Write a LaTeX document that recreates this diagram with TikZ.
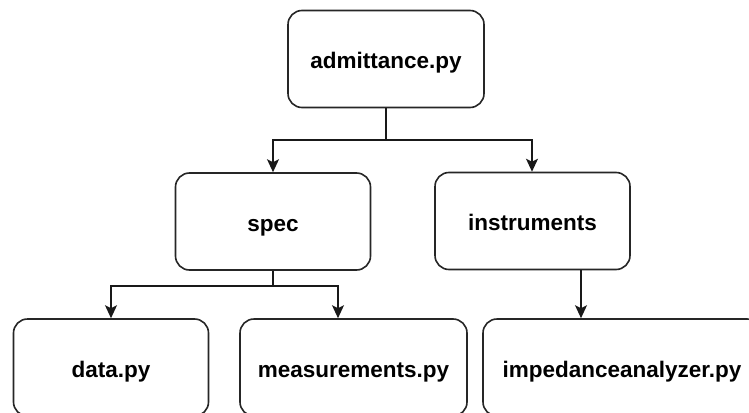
\documentclass[tikz,border=0pt]{standalone}
\usepackage{fontspec}
\setmainfont{Liberation Sans}
\usetikzlibrary{arrows.meta,calc}
\tikzset{
  box/.style={draw=black!85, line width=1.6pt, rounded corners=14pt, fill=white,
    minimum height=97pt, inner sep=0pt, text height=22pt, text depth=3pt,
    font=\fontsize{22.5}{27}\selectfont\bfseries},
  link/.style={draw=black!90, line width=1.6pt},
  conn/.style={link, -{Stealth[length=13pt,width=12pt,inset=3pt]}}
}
\begin{document}
\begin{tikzpicture}[x=1pt,y=-1pt]
\clip (0,0) rectangle (749,412);
\fill[white] (0,0) rectangle (749,412);
\node[box, minimum width=196pt] (adm) at (386,59) {admittance.py};
\node[box, minimum width=195pt] (spec) at (273,221.5) {spec};
\node[box, minimum width=195pt] (inst) at (532.5,221) {instruments};
\node[box, minimum width=195pt] (data) at (111,367.5) {data.py};
\node[box, minimum width=227pt] (meas) at (353.5,367.5) {measurements.py};
\node[box, minimum width=278pt] (imp) at (622,367.5) {impedanceanalyzer.py};
\coordinate (j1) at (386,140);
\coordinate (j2) at (273,286);
\coordinate (i1) at ([xshift=48.5pt]inst.south);
\draw[link] (adm.south) -- (j1);
\draw[conn] (j1) -| (spec.north);
\draw[conn] (j1) -| ([xshift=-0.5pt]inst.north);
\draw[link] (spec.south) -- (j2);
\draw[conn] (j2) -| (data.north);
\draw[conn] (j2) -| ([xshift=-15.5pt]meas.north);
\draw[conn] (i1) -- (i1 |- imp.north);
\end{tikzpicture}
\end{document}
